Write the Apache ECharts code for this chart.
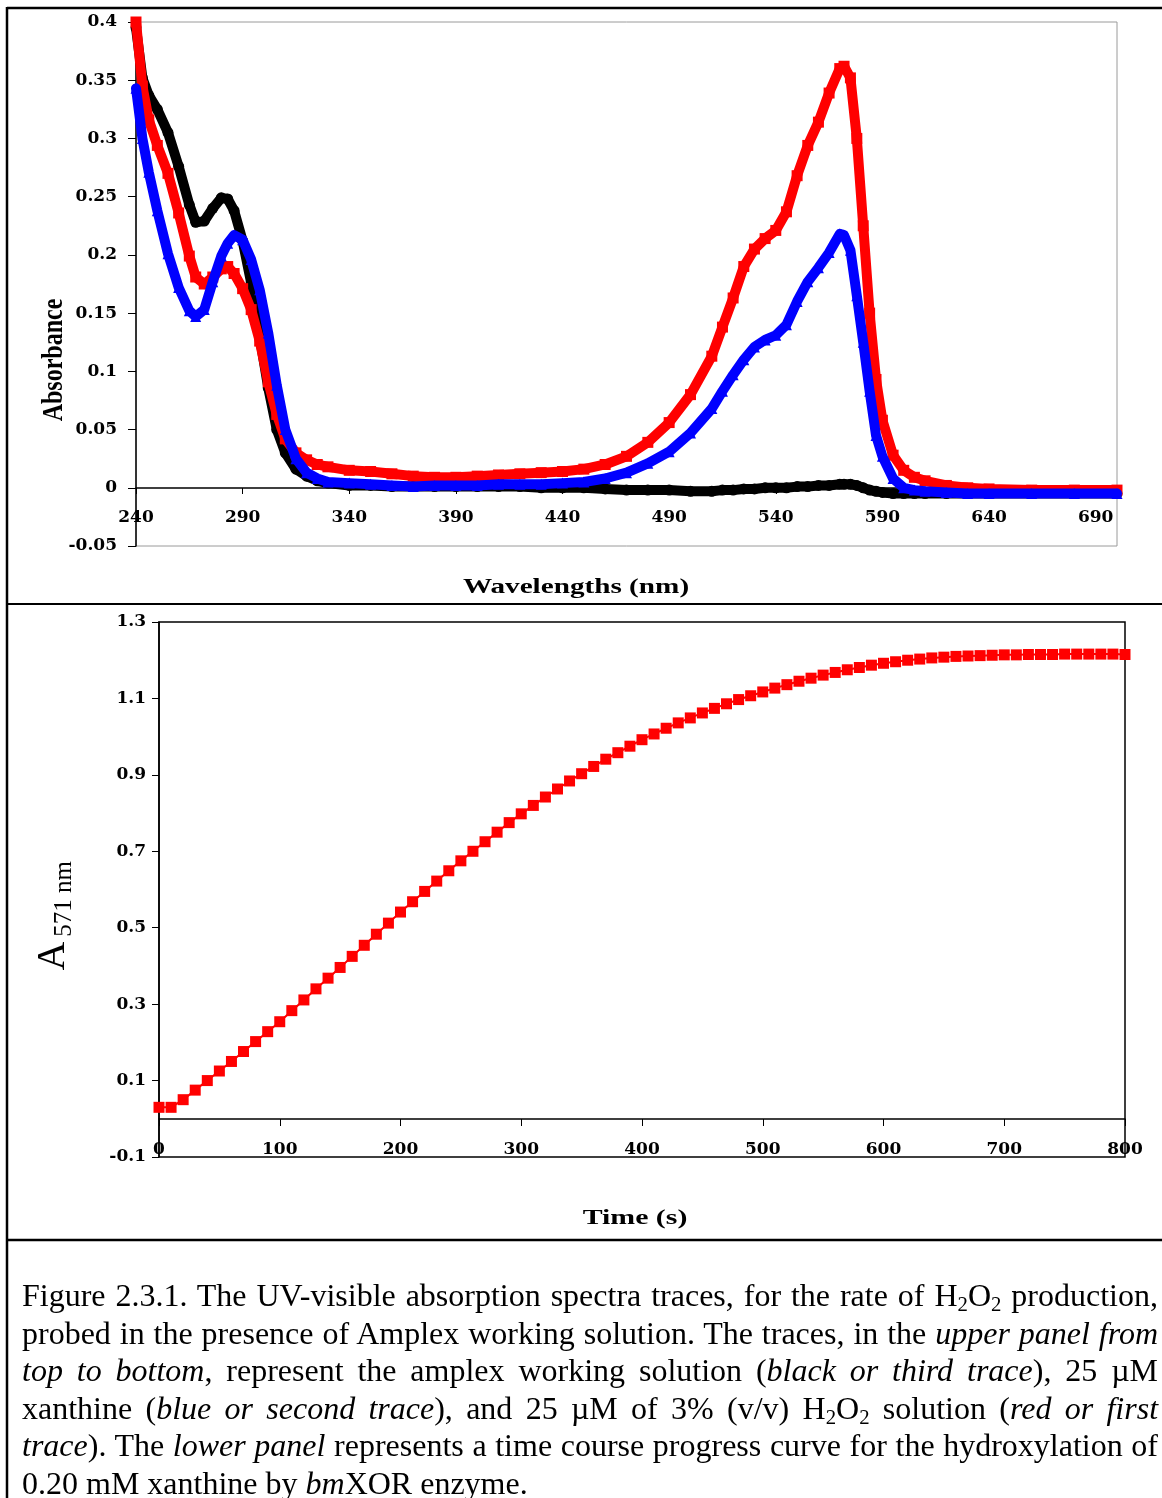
<!DOCTYPE html>
<html>
<head>
<meta charset="utf-8">
<script src="https://cdn.jsdelivr.net/npm/echarts@6/dist/echarts.min.js"></script>
<style>
html,body{margin:0;padding:0;background:#fff;}
#chart{position:absolute;left:0;top:0;width:1162px;height:1498px;}
#caption{position:absolute;left:22px;top:1277px;width:1136px;font-family:"Liberation Serif","Times New Roman",serif;font-size:32px;color:#000;z-index:2;}
#caption .ln{height:37.6px;line-height:37.6px;text-align:justify;text-align-last:justify;white-space:nowrap;}
#caption .ln.last{text-align-last:left;}
#caption sub{font-size:0.65em;vertical-align:-0.22em;line-height:0;}
</style>
</head>
<body>
<div id="chart"></div>
<div id="caption">
<div class="ln">Figure 2.3.1. The UV-visible absorption spectra traces, for the rate of H<sub>2</sub>O<sub>2</sub> production,</div>
<div class="ln">probed in the presence of Amplex working solution. The traces, in the <i>upper panel from</i></div>
<div class="ln"><i>top to bottom</i>, represent the amplex working solution (<i>black or third trace</i>), 25 µM</div>
<div class="ln">xanthine (<i>blue or second trace</i>), and 25 µM of 3% (v/v) H<sub>2</sub>O<sub>2</sub> solution (<i>red or first</i></div>
<div class="ln"><i>trace</i>). The <i>lower panel</i> represents a time course progress curve for the hydroxylation of</div>
<div class="ln last">0.20 mM xanthine by <i>bm</i>XOR enzyme.</div>
</div>
<script>
// ---------- Upper panel: UV-visible spectra ----------
const wavelengths = [240,243,246,250,255,260,265,268,272,276,
  280,283,286,290,294,298,302,306,310,315,
  320,325,330,340,350,360,370,380,390,400,
  410,420,430,440,450,460,470,480,490,500,
  510,515,520,525,530,535,540,545,550,555,
  560,565,570,572,575,578,581,584,587,590,
  595,600,605,610,620,630,640,660,680,700];

const absBlack = [0.395,0.352,0.337,0.325,0.305,0.276,0.243,0.228,0.229,0.240,
  0.249,0.248,0.238,0.212,0.176,0.130,0.086,0.050,0.030,0.016,
  0.010,0.006,0.004,0.002,0.002,0.001,0.001,0.001,0.001,0.001,
  0.001,0.001,0.000,0.000,0.000,-0.001,-0.002,-0.002,-0.002,-0.003,
  -0.003,-0.002,-0.002,-0.001,-0.001,0.000,0.000,0.000,0.001,0.001,
  0.002,0.002,0.003,0.003,0.003,0.002,0.000,-0.002,-0.003,-0.004,
  -0.005,-0.005,-0.005,-0.005,-0.005,-0.005,-0.005,-0.005,-0.005,-0.005];

const absRed = [0.400,0.345,0.316,0.294,0.270,0.236,0.199,0.181,0.175,0.181,
  0.188,0.190,0.184,0.171,0.153,0.126,0.091,0.063,0.042,0.030,
  0.024,0.020,0.018,0.015,0.014,0.012,0.010,0.009,0.009,0.010,
  0.011,0.012,0.013,0.014,0.016,0.020,0.027,0.039,0.056,0.080,
  0.113,0.138,0.163,0.190,0.205,0.214,0.221,0.237,0.268,0.294,
  0.314,0.339,0.360,0.362,0.352,0.300,0.225,0.150,0.093,0.058,
  0.028,0.015,0.009,0.006,0.002,0.000,-0.001,-0.002,-0.002,-0.002];

const absBlue = [0.343,0.300,0.271,0.238,0.201,0.172,0.152,0.147,0.153,0.177,
  0.199,0.210,0.217,0.213,0.196,0.170,0.133,0.088,0.050,0.025,
  0.013,0.008,0.005,0.004,0.003,0.002,0.001,0.002,0.002,0.002,
  0.003,0.003,0.003,0.004,0.005,0.008,0.013,0.021,0.031,0.047,
  0.068,0.083,0.097,0.110,0.121,0.127,0.131,0.140,0.160,0.177,
  0.189,0.202,0.218,0.217,0.204,0.165,0.125,0.083,0.045,0.027,
  0.008,0.000,-0.002,-0.003,-0.004,-0.005,-0.005,-0.005,-0.005,-0.005];

const spectraXTicks = [240,290,340,390,440,490,540,590,640,690];
const spectraYTicks = [-0.05,0,0.05,0.1,0.15,0.2,0.25,0.3,0.35,0.4];

// ---------- Lower panel: time course at 571 nm ----------
const timeSec = [0,10,20,30,40,50,60,70,80,90,
  100,110,120,130,140,150,160,170,180,190,
  200,210,220,230,240,250,260,270,280,290,
  300,310,320,330,340,350,360,370,380,390,
  400,410,420,430,440,450,460,470,480,490,
  500,510,520,530,540,550,560,570,580,590,
  600,610,620,630,640,650,660,670,680,690,
  700,710,720,730,740,750,760,770,780,790,800];

const a571 = [0.030,0.030,0.050,0.075,0.100,0.125,0.150,0.176,0.202,0.228,
  0.254,0.283,0.311,0.340,0.368,0.396,0.425,0.454,0.483,0.512,
  0.541,0.568,0.595,0.622,0.649,0.675,0.700,0.725,0.750,0.775,
  0.798,0.820,0.842,0.863,0.884,0.903,0.922,0.941,0.958,0.975,
  0.992,1.007,1.022,1.036,1.049,1.062,1.074,1.086,1.097,1.107,
  1.117,1.127,1.136,1.145,1.153,1.161,1.168,1.175,1.181,1.187,
  1.192,1.196,1.200,1.203,1.206,1.208,1.210,1.211,1.212,1.213,
  1.214,1.214,1.215,1.215,1.215,1.216,1.216,1.216,1.216,1.216,1.215];

const timeXTicks = [0,100,200,300,400,500,600,700,800];
const timeYTicks = [-0.1,0.1,0.3,0.5,0.7,0.9,1.1,1.3];

// ---------- Build ----------
const pair = (xs, ys) => xs.map((x, i) => [x, ys[i]]);
const tickFont = {fontFamily:'"DejaVu Serif", serif', fontWeight:'bold', fontSize:17, color:'#000'};

const chart = echarts.init(document.getElementById('chart'), null, {renderer:'canvas'});

function spectrum(name, ys, color, symbol, z) {
  return {
    name: name, type:'line', xAxisIndex:0, yAxisIndex:0, z: z,
    data: pair(wavelengths, ys),
    symbol: symbol, symbolSize: 11, showAllSymbol: true,
    lineStyle: {color: color, width: 10, join:'round', cap:'round'},
    itemStyle: {color: color, borderWidth: 0},
    animation: false
  };
}

function frameLine(x1, y1, x2, y2, w) {
  return {type:'line', silent:true, shape:{x1:x1, y1:y1, x2:x2, y2:y2}, style:{stroke:'#000', lineWidth:w}};
}

const option = {
  backgroundColor:'#fff',
  animation:false,
  grid: [
    {left:136, top:22, width:981, height:524, show:true, borderColor:'#9a9a9a', borderWidth:1, backgroundColor:'#fff'},
    {left:159, top:622, width:966, height:535, show:true, borderColor:'#000', borderWidth:1.5, backgroundColor:'#fff'}
  ],
  xAxis: [
    {type:'value', gridIndex:0, min:spectraXTicks[0], max:700, interval:50, offset:-58,
     axisLine:{onZero:false, lineStyle:{color:'#000', width:1.5}},
     axisTick:{show:true, length:6, lineStyle:{color:'#000'}},
     axisLabel:Object.assign({margin:21, showMaxLabel:false,
       formatter: v => (spectraXTicks.indexOf(Math.round(v)) >= 0 ? String(Math.round(v)) : '')}, tickFont),
     splitLine:{show:false}},
    {type:'value', gridIndex:1, min:timeXTicks[0], max:timeXTicks[timeXTicks.length-1], interval:100, offset:-38,
     axisLine:{onZero:false, lineStyle:{color:'#000', width:1.5}},
     axisTick:{show:true, length:7, lineStyle:{color:'#000'}},
     axisLabel:Object.assign({margin:22, formatter: v => String(Math.round(v))}, tickFont),
     splitLine:{show:false}}
  ],
  yAxis: [
    {type:'value', gridIndex:0, min:spectraYTicks[0], max:spectraYTicks[spectraYTicks.length-1], interval:0.05,
     axisLine:{show:true, lineStyle:{color:'#000', width:1.5}},
     axisTick:{show:true, length:8, lineStyle:{color:'#000'}},
     axisLabel:Object.assign({margin:19, formatter: v => String(+(+v).toFixed(2))}, tickFont),
     splitLine:{show:false}},
    {type:'value', gridIndex:1, min:timeYTicks[0], max:timeYTicks[timeYTicks.length-1], interval:0.2,
     axisLine:{show:true, lineStyle:{color:'#000', width:1.5}},
     axisTick:{show:true, length:7, lineStyle:{color:'#000'}},
     axisLabel:Object.assign({margin:13, formatter: v => (+v).toFixed(1)}, tickFont),
     splitLine:{show:false}}
  ],
  series: [
    spectrum('Amplex working solution', absBlack, '#000000', 'circle', 2),
    spectrum('25 µM H2O2', absRed, '#ff0000', 'rect', 3),
    spectrum('25 µM xanthine', absBlue, '#0000ff', 'triangle', 4),
    {name:'A571', type:'line', xAxisIndex:1, yAxisIndex:1, z:2,
     data: pair(timeSec, a571),
     symbol:'rect', symbolSize:11, showAllSymbol:true,
     lineStyle:{color:'#ff0000', width:2},
     itemStyle:{color:'#ff0000'}, animation:false}
  ],
  graphic: [
    frameLine(7, 8, 1162, 8, 2.5),
    frameLine(7, 7, 7, 1498, 2.5),
    frameLine(7, 604, 1162, 604, 2),
    frameLine(7, 1240, 1162, 1240, 2.5),
    {type:'text', x:576, y:588, scaleX:1.39,
     style:{text:'Wavelengths (nm)', fontFamily:'"Liberation Serif", serif', fontWeight:'bold', fontSize:21, fill:'#000', align:'center', verticalAlign:'middle'}},
    {type:'text', x:54, y:360, rotation:Math.PI/2, scaleY:1.25,
     style:{text:'Absorbance', fontFamily:'"Liberation Serif", serif', fontWeight:'bold', fontSize:24, fill:'#000', align:'center', verticalAlign:'middle'}},
    {type:'text', x:635, y:1219, scaleX:1.42,
     style:{text:'Time (s)', fontFamily:'"Liberation Serif", serif', fontWeight:'bold', fontSize:21, fill:'#000', align:'center', verticalAlign:'middle'}},
    {type:'text', x:53, y:956, rotation:Math.PI/2,
     style:{text:'A', fontFamily:'"Liberation Serif", serif', fontSize:40, fill:'#000', align:'center', verticalAlign:'middle'}},
    {type:'text', x:64, y:899, rotation:Math.PI/2,
     style:{text:'571 nm', fontFamily:'"Liberation Serif", serif', fontSize:25, fill:'#000', align:'center', verticalAlign:'middle'}}
  ]
};
chart.setOption(option);
</script>
</body>
</html>
